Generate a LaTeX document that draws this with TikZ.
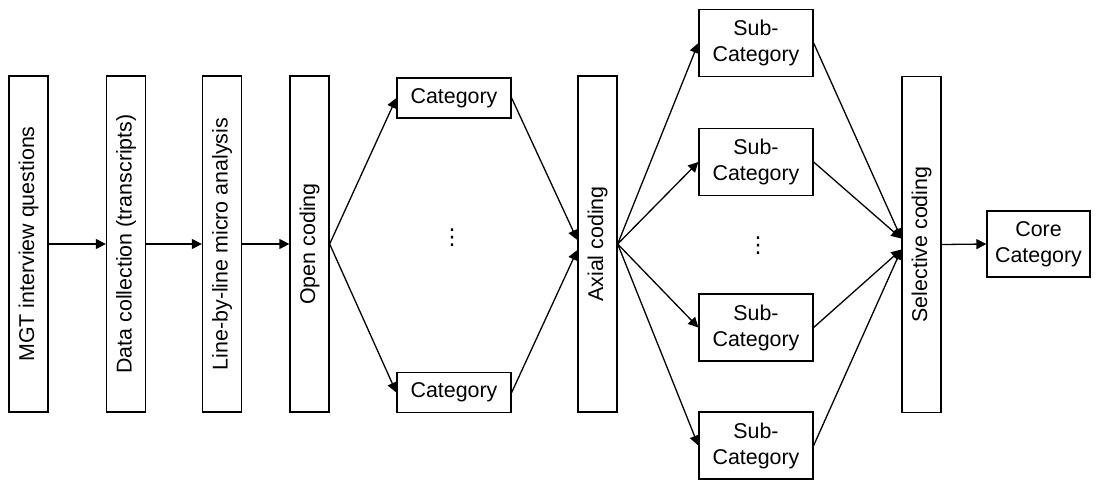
\documentclass[tikz,border=0pt]{standalone}
\usepackage{fontspec}
\setmainfont{Liberation Sans}
\newfontfamily\dotsfont{DejaVu Sans}
\usetikzlibrary{arrows.meta}
\tikzset{
	stage/.style={draw, line width=0.65pt, rotate=90, minimum width=168pt, minimum height=19.5pt, inner sep=0pt},
	cat/.style={draw, line width=0.65pt, minimum width=57pt, minimum height=20pt, inner sep=0pt, align=center},
	subcat/.style={cat, minimum height=33.5pt},
	gap/.style={font=\dotsfont\fontsize{11}{13}\selectfont},
	flow/.style={-{Triangle[length=5pt,width=5pt]}, line width=0.65pt},
}
\begin{document}
\begin{tikzpicture}[x=0.5pt, y=-0.5pt, font=\fontsize{10.7}{13}\selectfont]
		\useasboundingbox (0,0) rectangle (1100,479);
		\node[stage] (mgt) at (28.5,244) {MGT interview questions};
		\node[stage] (data) at (126,244) {Data collection (transcripts)};
		\node[stage] (line) at (222,244) {Line-by-line micro analysis};
		\node[stage] (open) at (309.5,244) {Open coding};
		\node[cat] (cat1) at (454,98) {Category};
		\node[cat] (cat2) at (454,392.5) {Category};
		\node[gap] (dots1) at (452,238) {⋮};
		\node[stage] (axial) at (597.5,244) {Axial coding};
		\node[subcat] (sub1) at (756,43) {Sub-\\Category};
		\node[subcat] (sub2) at (756,162) {Sub-\\Category};
		\node[gap] (dots2) at (758,246) {⋮};
		\node[subcat] (sub3) at (756,327.5) {Sub-\\Category};
		\node[subcat] (sub4) at (756,445.5) {Sub-\\Category};
		\node[stage] (sel) at (921.5,244.5) {Selective coding};
		\node[cat, minimum width=51.5pt, minimum height=33pt] (core) at (1038.5,244) {Core\\Category};
		\draw[flow] (mgt.south) -- (data.north);
		\draw[flow] (data.south) -- (line.north);
		\draw[flow] (line.south) -- (open.north);
		\draw[flow] (open.south) -- (cat1.west);
		\draw[flow] (open.south) -- (cat2.west);
		\draw[flow] (cat1.east) -- ([yshift=2pt]axial.north);
		\draw[flow] (cat2.east) -- ([yshift=-3pt]axial.north);
		\draw[flow] (axial.south) -- (sub1.west);
		\draw[flow] (axial.south) -- (sub2.west);
		\draw[flow] (axial.south) -- (sub3.west);
		\draw[flow] (axial.south) -- (sub4.west);
		\draw[flow] (sub1.east) -- ([yshift=3pt]sel.north);
		\draw[flow] (sub2.east) -- ([yshift=3pt]sel.north);
		\draw[flow] (sub3.east) -- ([yshift=-2.5pt]sel.north);
		\draw[flow] (sub4.east) -- ([yshift=-2.5pt]sel.north);
		\draw[flow] (sel.south) -- (core.west);
		\end{tikzpicture}
\end{document}
